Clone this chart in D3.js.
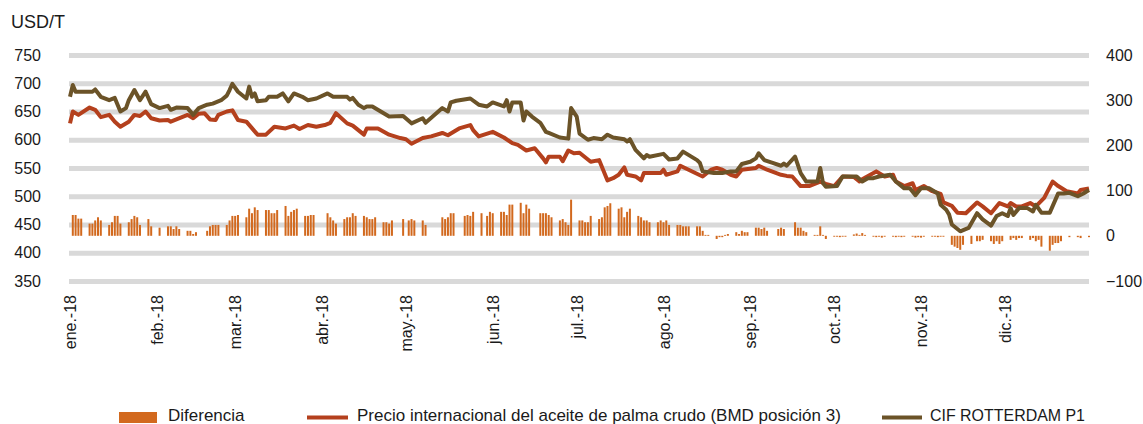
<!DOCTYPE html>
<html><head><meta charset="utf-8">
<script src="https://cdn.jsdelivr.net/npm/d3@7"></script>
<style>
body{margin:0;background:#fff}
svg{display:block;background:#fff}
text{font-family:"Liberation Sans",Arial,sans-serif;fill:#1a1a1a}
</style>
</head><body><svg id="c" width="1143" height="424"></svg>
<script>
// ---- data (days counted from 1 Jan 2018) ----
const monthLabels = ["ene.-18","feb.-18","mar.-18","abr.-18","may.-18","jun.-18","jul.-18","ago.-18","sep.-18","oct.-18","nov.-18","dic.-18"];
const leftTicks = [350,400,450,500,550,600,650,700,750];
const rightTicks = [-100,0,100,200,300,400];
const seriesNames = ["Diferencia","Precio internacional del aceite de palma crudo (BMD posición 3)","CIF ROTTERDAM P1"];

const cifDays = [0,1,2,8,9,11,14,16,18,20,21,23,25,27,29,32,35,36,38,42,44,46,49,51,54,56,57,58,60,63,64,65,66,67,70,71,74,76,78,80,83,85,88,92,94,99,100,101,103,105,106,108,111,114,119,122,126,127,133,135,136,138,143,146,149,151,155,156,157,158,161,162,163,165,168,170,171,175,178,179,181,182,185,187,190,192,194,198,199,200,202,205,206,207,212,214,217,219,224,225,226,230,233,236,238,240,243,245,246,248,251,254,255,256,259,261,263,267,268,269,270,274,276,281,283,285,287,289,293,295,298,300,302,304,307,310,311,313,314,315,318,321,324,326,329,331,333,335,336,337,339,342,344,345,347,350,353,355,357,360,362,364];
const cifValues = [676,697,685,685,689,676,670,674,650,656,670,688,670,685,663,656,660,653,657,656,644,656,662,664,670,678,688,699,685,673,694,676,682,668,670,676,676,682,668,682,676,670,673,682,676,676,671,674,662,656,659,659,650,641,642,629,638,630,656,650,666,669,673,662,659,666,659,670,650,666,666,634,650,641,630,614,612,604,602,656,641,611,600,603,601,609,604,601,597,601,582,567,573,570,575,565,567,579,564,559,544,541,541,544,544,557,561,567,576,564,559,554,558,554,570,541,526,526,550,523,517,518,535,535,526,532,532,535,538,526,514,514,502,514,514,505,485,476,468,450,438,444,470,459,448,465,470,465,479,467,479,479,473,485,471,471,505,505,506,500,505,511];

const bmdDays = [0,1,3,7,9,11,14,16,18,21,23,25,27,29,32,35,36,38,42,44,46,48,50,52,53,56,58,60,63,67,70,73,77,80,82,85,88,91,93,95,99,101,105,106,110,114,118,120,122,126,129,133,135,139,143,144,146,151,155,158,160,163,166,169,170,171,175,176,178,180,182,186,189,192,194,196,198,199,202,204,205,211,212,213,217,218,223,226,229,231,233,236,238,240,245,246,249,254,256,258,261,264,268,270,273,276,280,282,283,288,291,294,295,298,301,302,305,308,311,312,315,317,320,324,326,329,332,335,336,338,340,343,345,348,351,353,356,360,361,364];
const bmdValues = [629,650,644,657,653,640,644,632,623,632,644,642,650,638,634,635,632,636,644,638,646,647,636,635,644,650,652,635,632,609,609,623,620,625,619,626,623,626,630,647,629,625,609,620,620,609,603,601,593,603,606,612,608,620,626,617,606,614,604,594,591,581,585,567,560,570,570,562,581,576,577,561,564,528,532,538,551,538,535,528,541,541,547,538,544,554,542,535,547,550,547,538,535,547,550,554,547,538,536,535,518,518,526,522,518,535,534,526,530,544,535,538,526,518,523,511,518,509,504,489,483,471,470,489,482,470,488,482,488,482,482,488,482,497,526,518,509,505,511,514];

const difDays = [1,2,3,4,7,8,9,10,11,14,15,16,17,18,21,22,23,24,25,28,29,32,35,36,37,38,39,42,43,44,45,49,50,51,52,53,56,57,58,59,60,63,64,65,66,67,70,71,72,73,74,77,78,79,80,81,84,85,86,87,92,93,94,95,98,99,100,101,102,105,106,107,108,109,112,113,114,115,119,121,122,123,126,127,133,134,135,136,137,141,142,143,144,147,149,150,151,154,155,156,157,158,161,162,163,164,168,169,170,171,172,175,176,177,178,179,182,183,184,185,186,189,190,191,192,193,196,197,198,199,200,203,204,205,206,207,210,211,212,213,214,217,218,219,220,221,224,225,226,227,228,231,232,233,234,235,238,239,240,241,242,245,246,247,248,249,253,254,255,259,260,261,262,263,266,267,268,269,270,273,274,275,276,277,280,281,282,283,284,287,288,289,290,291,294,295,296,297,298,301,302,303,304,305,308,309,310,311,312,315,316,317,318,319,322,324,325,326,329,330,331,332,333,336,337,338,339,340,343,344,345,346,347,350,351,352,353,354,357,360,361,364];
const difValues = [46,46,38,38,27,27,34,41,34,24,30,44,44,27,30,37,44,41,24,37,21,18,21,21,15,21,15,11,11,4,8,11,21,24,24,24,24,34,44,44,46,41,60,50,63,57,57,57,50,50,57,66,44,53,57,60,44,44,46,46,50,41,34,27,37,41,41,50,44,44,41,37,37,41,30,30,27,34,37,34,37,34,34,24,41,37,41,50,50,44,46,44,53,50,44,53,50,53,53,46,69,69,73,50,69,60,50,50,50,46,41,34,37,30,24,80,34,34,30,30,44,37,41,63,66,72,60,63,41,53,60,44,41,34,34,30,30,34,30,34,24,24,24,21,21,21,21,21,11,2,2,-7,-3,-3,2,4,8,4,11,8,8,18,18,15,18,11,15,18,15,30,18,18,11,8,2,2,21,2,-7,-2,-2,-3,-2,-2,3,5,2,6,2,-2,-3,-2,-4,-2,-2,-3,-2,-3,-2,-2,-4,-3,-4,-2,-2,-2,-3,-2,-2,-20,-24,-27,-31,-20,-18,-12,-12,-9,-12,-18,-12,-18,-12,-9,-5,-9,-5,-5,-9,-5,-12,-9,-24,-33,-20,-16,-16,-12,-3,-3,-5,-3];

// ---- build ----
const base = new Date(2018,0,1);
const day = n => d3.timeDay.offset(base, n);
const cif = cifDays.map((d,i)=>({date:day(d), v:cifValues[i]}));
const bmd = bmdDays.map((d,i)=>({date:day(d), v:bmdValues[i]}));
const dif = difDays.map((d,i)=>({date:day(d), v:difValues[i]}));

const COL_BAR="#d2691e", COL_BMD="#b4401d", COL_CIF="#6b5328", COL_GRID="#d9d9d9";
const svg = d3.select("#c");
const x = d3.scaleTime().domain([day(0), day(364)]).range([70,1089]);
const yL = d3.scaleLinear().domain([350,750]).range([281,55]);
const yR = d3.scaleLinear().domain([-100,400]).range([281,55]);

// grid + left axis
const gL = svg.append("g").attr("transform","translate(69,0)")
  .call(d3.axisLeft(yL).tickValues(leftTicks).tickSizeInner(-1020).tickSizeOuter(0).tickPadding(28).tickFormat(d3.format("d")));
gL.select(".domain").remove();
gL.selectAll(".tick line").attr("stroke",COL_GRID).attr("stroke-width",5);
gL.selectAll(".tick text").style("font-size","16px").attr("fill","#1a1a1a");

// right axis
const gR = svg.append("g").attr("transform","translate(1089,0)")
  .call(d3.axisRight(yR).tickValues(rightTicks).tickSize(0).tickPadding(17).tickFormat(d3.format("d")));
gR.select(".domain").remove();
gR.selectAll(".tick text").style("font-size","16px").attr("fill","#1a1a1a");

// x axis (month labels, rotated)
const monthStarts = d3.range(12).map(m=>new Date(2018,m,1));
const gX = svg.append("g").attr("transform","translate(0,295)")
  .call(d3.axisBottom(x).tickValues(monthStarts).tickSize(0).tickFormat((d,i)=>monthLabels[i]));
gX.select(".domain").remove();
gX.selectAll(".tick text")
  .attr("transform","rotate(-90)").attr("x",0).attr("y",0).attr("dy","0.35em")
  .attr("text-anchor","end").style("font-size","16px").attr("fill","#1a1a1a");

// bars
svg.append("g").selectAll("rect").data(dif).join("rect")
  .attr("x",d=>x(d.date)-1).attr("width",2)
  .attr("y",d=>Math.min(yR(d.v),yR(0)))
  .attr("height",d=>Math.max(0.8,Math.abs(yR(d.v)-yR(0))))
  .attr("fill",COL_BAR);

// lines
const line = d3.line().x(d=>x(d.date)).y(d=>yL(d.v));
svg.append("path").datum(bmd).attr("d",line).attr("fill","none")
  .attr("stroke",COL_BMD).attr("stroke-width",4).attr("stroke-linejoin","round");
svg.append("path").datum(cif).attr("d",line).attr("fill","none")
  .attr("stroke",COL_CIF).attr("stroke-width",4).attr("stroke-linejoin","round");

// unit label
svg.append("text").attr("x",11).attr("y",28).style("font-size","18px").text("USD/T");

// legend
const lg = svg.append("g").style("font-size","17px");
lg.append("rect").attr("x",119).attr("y",412).attr("width",38).attr("height",11).attr("fill",COL_BAR);
lg.append("text").attr("x",168).attr("y",421).text(seriesNames[0]);
lg.append("line").attr("x1",307).attr("x2",348).attr("y1",417.5).attr("y2",417.5).attr("stroke",COL_BMD).attr("stroke-width",4);
lg.append("text").attr("x",357).attr("y",421).text(seriesNames[1]);
lg.append("line").attr("x1",882).attr("x2",922).attr("y1",417.5).attr("y2",417.5).attr("stroke",COL_CIF).attr("stroke-width",4);
lg.append("text").attr("x",930).attr("y",421).attr("textLength",155).attr("lengthAdjust","spacingAndGlyphs").text(seriesNames[2]);
</script>
</body></html>
